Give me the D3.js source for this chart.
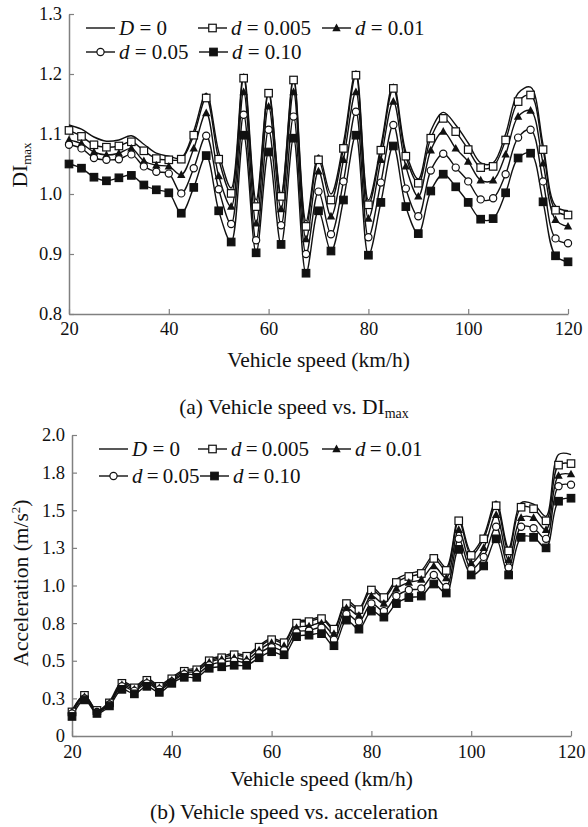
<!DOCTYPE html>
<html>
<head>
<meta charset="utf-8">
<title>Vehicle speed vs. DImax and acceleration</title>
<script src="https://d3js.org/d3.v7.min.js"></script>
<style>
  body { margin: 0; background: #fff; }
  text { font-family: "Liberation Serif", "Times New Roman", serif; fill: #111; }
</style>
</head>
<body>
<div id="chart"></div>
<script>
// vehicle speed (km/h)
let speed = [20, 22.5, 25, 27.5, 30, 32.5, 35, 37.5, 40, 42.5, 45, 47.5, 50, 52.5, 55, 57.5, 60, 62.5, 65, 67.5,
  70, 72.5, 75, 77.5, 80, 82.5, 85, 87.5, 90, 92.5, 95, 97.5, 100, 102.5, 105, 107.5, 110, 112.5, 115, 117.5, 120];

// (a) DImax
let diD0 = [1.115, 1.108, 1.095, 1.088, 1.090, 1.097, 1.083, 1.068, 1.063, 1.060, 1.105, 1.168, 1.070, 1.010, 1.200, 0.990, 1.172, 1.000, 1.195, 0.955,
  1.065, 1.000, 1.085, 1.205, 0.990, 1.080, 1.183, 1.070, 1.025, 1.105, 1.136, 1.115, 1.085, 1.052, 1.052, 1.100, 1.168, 1.178, 1.082, 0.980, 0.972];
let di005 = [1.106, 1.096, 1.082, 1.078, 1.080, 1.087, 1.072, 1.059, 1.057, 1.058, 1.098, 1.160, 1.058, 1.001, 1.193, 0.979, 1.168, 0.996, 1.190, 0.946,
  1.057, 0.990, 1.076, 1.198, 0.982, 1.073, 1.176, 1.063, 1.018, 1.093, 1.126, 1.104, 1.074, 1.044, 1.046, 1.090, 1.154, 1.165, 1.074, 0.973, 0.965];
let di01 = [1.090, 1.084, 1.070, 1.065, 1.068, 1.076, 1.055, 1.048, 1.046, 1.032, 1.076, 1.135, 1.030, 0.979, 1.170, 0.951, 1.146, 0.975, 1.170, 0.925,
  1.038, 0.963, 1.057, 1.170, 0.959, 1.057, 1.154, 1.046, 0.996, 1.073, 1.104, 1.076, 1.054, 1.023, 1.023, 1.066, 1.129, 1.139, 1.051, 0.957, 0.946];
let di05 = [1.082, 1.076, 1.060, 1.057, 1.058, 1.066, 1.046, 1.037, 1.034, 1.001, 1.043, 1.097, 1.008, 0.950, 1.132, 0.923, 1.107, 0.948, 1.129, 0.900,
  1.004, 0.933, 1.021, 1.137, 0.928, 1.019, 1.115, 1.009, 0.963, 1.039, 1.067, 1.044, 1.021, 0.991, 0.993, 1.033, 1.094, 1.107, 1.021, 0.926, 0.918];
let di10 = [1.050, 1.043, 1.028, 1.022, 1.027, 1.031, 1.015, 1.007, 1.002, 0.968, 1.011, 1.064, 0.972, 0.920, 1.098, 0.902, 1.070, 0.916, 1.093, 0.868,
  0.972, 0.905, 0.990, 1.098, 0.898, 0.986, 1.080, 0.979, 0.934, 1.005, 1.033, 1.012, 0.986, 0.958, 0.959, 1.002, 1.060, 1.068, 0.987, 0.897, 0.887];

// (b) acceleration (m/s^2)
let accD0 = [0.17, 0.27, 0.17, 0.23, 0.36, 0.33, 0.38, 0.34, 0.39, 0.44, 0.45, 0.51, 0.53, 0.55, 0.54, 0.60, 0.65, 0.63, 0.76, 0.77,
  0.79, 0.72, 0.90, 0.85, 0.99, 0.93, 1.04, 1.08, 1.10, 1.20, 1.12, 1.45, 1.22, 1.33, 1.56, 1.25, 1.55, 1.54, 1.46, 1.87, 1.87];
let acc005 = [0.16, 0.27, 0.17, 0.22, 0.35, 0.32, 0.37, 0.33, 0.38, 0.43, 0.44, 0.50, 0.52, 0.54, 0.53, 0.59, 0.64, 0.62, 0.75, 0.76,
  0.78, 0.71, 0.88, 0.84, 0.97, 0.92, 1.02, 1.06, 1.08, 1.18, 1.10, 1.43, 1.20, 1.31, 1.53, 1.23, 1.52, 1.51, 1.43, 1.80, 1.81];
let acc01 = [0.16, 0.26, 0.16, 0.22, 0.34, 0.31, 0.36, 0.32, 0.37, 0.42, 0.43, 0.49, 0.51, 0.52, 0.51, 0.57, 0.62, 0.60, 0.72, 0.73,
  0.75, 0.68, 0.85, 0.80, 0.93, 0.88, 0.98, 1.02, 1.04, 1.13, 1.05, 1.37, 1.15, 1.25, 1.47, 1.17, 1.45, 1.45, 1.37, 1.73, 1.74];
let acc05 = [0.15, 0.25, 0.16, 0.21, 0.33, 0.30, 0.35, 0.31, 0.36, 0.41, 0.41, 0.47, 0.49, 0.50, 0.49, 0.55, 0.59, 0.57, 0.69, 0.70,
  0.72, 0.64, 0.81, 0.76, 0.88, 0.83, 0.93, 0.97, 0.98, 1.07, 0.99, 1.31, 1.11, 1.19, 1.39, 1.12, 1.39, 1.38, 1.31, 1.66, 1.67];
let acc10 = [0.13, 0.24, 0.15, 0.20, 0.31, 0.28, 0.33, 0.29, 0.35, 0.39, 0.39, 0.45, 0.46, 0.47, 0.47, 0.52, 0.56, 0.54, 0.66, 0.67,
  0.68, 0.60, 0.77, 0.71, 0.83, 0.79, 0.88, 0.92, 0.93, 1.01, 0.95, 1.24, 1.07, 1.13, 1.31, 1.07, 1.32, 1.32, 1.25, 1.56, 1.58];

let xTicks = [20, 40, 60, 80, 100, 120];
let diTicks = [0.8, 0.9, 1.0, 1.1, 1.2, 1.3];
let accTicks = [0, 0.25, 0.5, 0.75, 1.0, 1.25, 1.5, 1.75, 2.0];
let accTickLabels = ["0", "0.3", "0.5", "0.8", "1.0", "1.3", "1.5", "1.8", "2.0"];

let seriesNames = [["D", " = 0"], ["d", " = 0.005"], ["d", " = 0.01"], ["d", " = 0.05"], ["d", " = 0.10"]];
let seriesMarks = ["none", "openSquare", "triangle", "openCircle", "square"];

let svg = d3.select("#chart").append("svg")
  .attr("width", 588)
  .attr("height", 827);

function drawMark(g, type, x, y) {
  if (type == "openSquare" || type == "square") {
    g.append("rect")
      .attr("x", x - 3.75).attr("y", y - 3.75)
      .attr("width", 7.5).attr("height", 7.5)
      .attr("fill", type == "square" ? "#111" : "#fff")
      .attr("stroke", "#111").attr("stroke-width", 1.2);
  } else if (type == "triangle") {
    g.append("path")
      .attr("d", "M" + x + "," + (y - 4.5) + "L" + (x + 4.2) + "," + (y + 3.2) + "L" + (x - 4.2) + "," + (y + 3.2) + "Z")
      .attr("fill", "#111");
  } else if (type == "openCircle") {
    g.append("circle")
      .attr("cx", x).attr("cy", y).attr("r", 3.6)
      .attr("fill", "#fff").attr("stroke", "#111").attr("stroke-width", 1.2);
  }
}

function drawChart(o) {
  let g = svg.append("g");
  let x = d3.scaleLinear().domain([20, 120]).range([o.left, o.right]);
  let y = d3.scaleLinear().domain(o.yDomain).range([o.bottom, o.top]);

  // axes
  let xAxis = g.append("g")
    .attr("transform", "translate(0," + o.bottom + ")")
    .call(d3.axisBottom(x).tickValues(xTicks).tickSizeInner(-5).tickSizeOuter(0).tickPadding(o.xPad));
  let yAxis = g.append("g")
    .attr("transform", "translate(" + o.left + ",0)")
    .call(d3.axisLeft(y).tickValues(o.yTicks).tickFormat(o.yFormat).tickSizeInner(-5).tickSizeOuter(0).tickPadding(7));
  [xAxis, yAxis].forEach(function(a) {
    a.select(".domain").attr("stroke", "#808080").attr("stroke-width", 1.5);
    a.selectAll(".tick line").attr("stroke", "#808080").attr("stroke-width", 1.2);
    a.selectAll(".tick text").attr("font-size", "18.5px").attr("fill", "#111")
      .attr("font-family", "'Liberation Serif', serif");
  });

  // series lines, then markers
  let line = d3.line()
    .x(function(d, i) { return x(speed[i]); })
    .y(function(d) { return y(d); })
    .curve(d3.curveCatmullRom.alpha(0.5));

  o.series.forEach(function(vals) {
    g.append("path")
      .datum(vals)
      .attr("d", line)
      .attr("fill", "none")
      .attr("stroke", "#111")
      .attr("stroke-width", 1.4);
  });
  o.series.forEach(function(vals, s) {
    if (seriesMarks[s] == "none") return;
    let mg = g.append("g");
    vals.forEach(function(v, i) {
      drawMark(mg, seriesMarks[s], x(speed[i]), y(v));
    });
  });

  // legend
  let lg = g.append("g");
  o.legendPos.forEach(function(p, s) {
    lg.append("line")
      .attr("x1", p[0]).attr("x2", p[0] + 29)
      .attr("y1", p[1]).attr("y2", p[1])
      .attr("stroke", "#111").attr("stroke-width", 1.4);
    drawMark(lg, seriesMarks[s], p[0] + 14.5, p[1]);
    let t = lg.append("text")
      .attr("x", p[0] + 33).attr("y", p[1] + 7)
      .attr("font-size", "21px");
    t.append("tspan").attr("font-style", "italic").text(seriesNames[s][0]);
    t.append("tspan").text(o.compact && s > 0 ? seriesNames[s][1].replace(/ /g, "\u2009") : seriesNames[s][1]);
  });

  // axis titles
  let yt = g.append("text")
    .attr("transform", "translate(" + o.yTitleX + "," + o.yTitleY + ") rotate(-90)")
    .attr("text-anchor", "middle")
    .attr("font-size", "21.5px");
  o.yTitle(yt);

  g.append("text")
    .attr("x", (o.left + o.right) / 2)
    .attr("y", o.xTitleY)
    .attr("text-anchor", "middle")
    .attr("font-size", "21.5px")
    .text("Vehicle speed (km/h)");

  let cap = g.append("text")
    .attr("x", 294)
    .attr("y", o.captionY)
    .attr("text-anchor", "middle")
    .attr("font-size", "21.5px");
  o.caption(cap);
}

drawChart({
  left: 69, right: 568, top: 14, bottom: 314,
  yDomain: [0.8, 1.3], yTicks: diTicks, yFormat: d3.format(".1f"),
  xPad: 8,
  series: [diD0, di005, di01, di05, di10],
  legendPos: [[86, 28], [198, 28], [322, 28], [86, 52], [199, 52]],
  compact: false,
  yTitleX: 27, yTitleY: 165,
  yTitle: function(t) {
    t.append("tspan").text("DI");
    t.append("tspan").attr("font-size", "13px").attr("dy", "4").text("max");
  },
  xTitleY: 367,
  captionY: 414,
  caption: function(t) {
    t.append("tspan").text("(a) Vehicle speed vs. DI");
    t.append("tspan").attr("font-size", "14px").attr("dy", "4").text("max");
  }
});

drawChart({
  left: 72, right: 571, top: 435, bottom: 736,
  yDomain: [0, 2], yTicks: accTicks,
  yFormat: function(d) { return accTickLabels[accTicks.indexOf(d)]; },
  xPad: 9,
  series: [accD0, acc005, acc01, acc05, acc10],
  legendPos: [[99, 449], [198, 449], [322, 449], [99, 476], [200, 476]],
  compact: true,
  yTitleX: 28, yTitleY: 583,
  yTitle: function(t) {
    t.append("tspan").text("Acceleration (m/s");
    t.append("tspan").attr("font-size", "13px").attr("dy", "-8").text("2");
    t.append("tspan").attr("dy", "8").text(")");
  },
  xTitleY: 786,
  captionY: 819,
  caption: function(t) {
    t.text("(b) Vehicle speed vs. acceleration");
  }
});
</script>
</body>
</html>
